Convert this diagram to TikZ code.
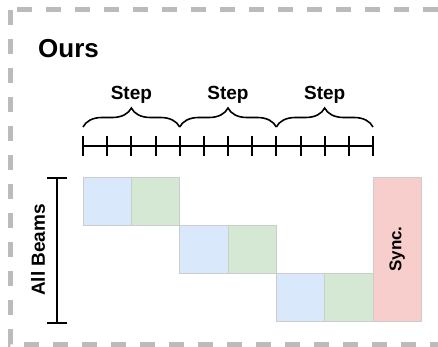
\documentclass[tikz,border=0pt]{standalone}
\usepackage{fontspec}
\setmainfont{Liberation Sans}
\usepackage{tikz}
\usetikzlibrary{calc,arrows.meta,decorations.pathreplacing}
\definecolor{frameGrey}{HTML}{BBBBBB}
\definecolor{cellLine}{HTML}{CCCCCC}
\definecolor{beamBlue}{HTML}{DAE8FC}
\definecolor{beamGreen}{HTML}{D5E8D4}
\definecolor{syncRed}{HTML}{F8CECC}
\tikzset{
  framebox/.style={draw=frameGrey, line width=5pt, dash pattern=on 15pt off 14pt},
  titletext/.style={font=\fontsize{26}{30}\selectfont\bfseries, anchor=west, inner sep=0pt},
  steptext/.style={font=\fontsize{19}{22}\selectfont\bfseries, inner sep=0pt},
  stepbrace/.style={decorate, decoration={brace, amplitude=19pt}, line width=1.6pt},
  tickline/.style={line width=2pt},
  % --- beam blocks ---
  cellbox/.style={rectangle, draw=cellLine, fill=#1, line width=0.8pt, minimum width=48.33pt, minimum height=48pt, inner sep=0pt},
  syncbox/.style={rectangle, draw=cellLine, fill=syncRed, line width=0.8pt, minimum width=48.33pt, minimum height=144pt, inner sep=0pt, font=\fontsize{17}{20}\selectfont\bfseries},
  beambar/.style={{Bar[width=20pt]}-{Bar[width=20pt]}, line width=2pt},
}

\begin{document}
\begin{tikzpicture}[x=1pt,y=-1pt]
  \useasboundingbox (0,0) rectangle (438,347);
  \draw[framebox] (10,10) rectangle (470,344);

  \node[titletext] (title) at (38,49) {Ours};

  % time axis with thirteen ticks
  \coordinate (axisL) at (83,146);
  \coordinate (axisR) at (373,146);
  \draw[tickline] (axisL) -- (axisR);
  \foreach \i in {0,...,12}
    \draw[tickline] (83+24.1667*\i,136) -- (83+24.1667*\i,156);

  \foreach \i/\x in {0/83,1/179.67,2/276.33,3/373}
    \coordinate (brace\i) at (\x,127);
  \foreach \i/\j in {0/1,1/2,2/3}{
    \draw[stepbrace] (brace\i) -- (brace\j);
    \node[steptext] (step\i) at ($(brace\i)!0.5!(brace\j)+(0,-32)$) {Step};
  }

  % one row of work per group of beams
  \foreach \r in {0,1,2}{
    \node[cellbox=beamBlue] (blue\r) at (107.17+96.67*\r,201+48*\r) {};
    \node[cellbox=beamGreen] (green\r) at (155.5+96.67*\r,201+48*\r) {};
  }
  \node[syncbox] (sync) at (397.17,249) {\rotatebox{90}{Sync.}};

  \coordinate (beamtop) at (57,177);
  \coordinate (beambot) at (57,324);
  \draw[beambar] (beamtop) -- (beambot);
  \node[steptext, rotate=90] (beams) at (38,250) {All Beams};
\end{tikzpicture}
\end{document}
